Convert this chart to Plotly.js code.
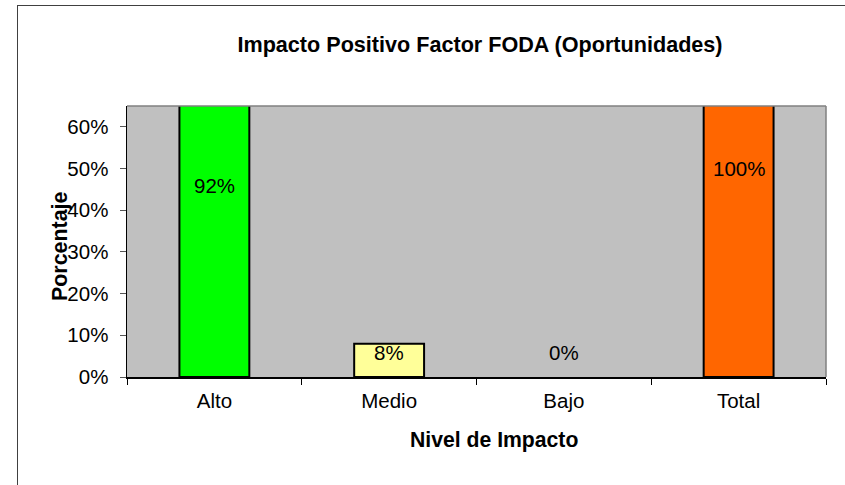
<!DOCTYPE html>
<html>
<head>
<meta charset="utf-8">
<script src="https://cdn.plot.ly/plotly-3.0.1.min.js"></script>
<style>
  html, body { margin: 0; padding: 0; background: #ffffff; overflow: hidden; }
  #wrap { position: relative; width: 845px; height: 485px; overflow: hidden; }
  #frame { position: absolute; left: 17px; top: 5px; width: 828px; height: 480px; border-left: 1px solid #404040; border-top: 1px solid #404040; box-sizing: border-box; }
  #chart { position: absolute; left: 0; top: 0; width: 845px; height: 485px; }
</style>
</head>
<body>
<div id="wrap">
  <div id="frame"></div>
  <div id="chart"></div>
</div>
<script>
// ---- data ----
const categories = ['Alto', 'Medio', 'Bajo', 'Total'];
const values = [0.92, 0.08, 0.00, 1.00];
const valueLabels = ['92%', '8%', '0%', '100%'];
const yTickValues = [0, 0.1, 0.2, 0.3, 0.4, 0.5, 0.6];
const yTickLabels = ['0%', '10%', '20%', '30%', '40%', '50%', '60%'];
const chartTitle = 'Impacto Positivo Factor FODA (Oportunidades)';
const xTitle = 'Nivel de Impacto';
const yTitle = 'Porcentaje';

// ---- styles ----
const barColors = ['#00FF00', '#FFFF99', '#C0C0C0', '#FF6600'];
const barLineWidths = [2, 2, 0, 2];
const FONT = 'Liberation Sans, Arial, sans-serif';
const minLabelY = 0.058;

const trace = {
  type: 'bar',
  x: categories,
  y: values,
  width: 0.4,
  marker: { color: barColors, line: { color: '#000000', width: barLineWidths } },
  hoverinfo: 'none'
};

const labelAnnotations = categories.map((c, i) => ({
  x: c, y: Math.max(values[i] / 2, minLabelY), xref: 'x', yref: 'y',
  text: valueLabels[i], showarrow: false,
  xanchor: 'center', yanchor: 'middle',
  font: { family: FONT, size: 20.5, color: '#000000' }
}));

const layout = {
  width: 845, height: 485,
  margin: { l: 127, r: 19, t: 106, b: 108, pad: 0 },
  paper_bgcolor: 'rgba(0,0,0,0)',
  plot_bgcolor: '#C0C0C0',
  showlegend: false,
  bargap: 0.6,
  title: {
    text: '<b>' + chartTitle + '</b>',
    x: 480 / 845, xref: 'container', xanchor: 'center',
    y: 1 - 44 / 485, yref: 'container', yanchor: 'middle',
    font: { family: FONT, size: 21.6, color: '#000000' }
  },
  xaxis: {
    type: 'category',
    categoryorder: 'array', categoryarray: categories,
    showline: true, linecolor: '#000000', linewidth: 1.5,
    ticks: 'outside', tickson: 'boundaries', ticklen: 6, tickcolor: '#000000', tickwidth: 1,
    ticklabelstandoff: 5,
    tickfont: { family: FONT, size: 20.5, color: '#000000' },
    showgrid: false, zeroline: false, fixedrange: true
  },
  yaxis: {
    range: [0, 0.65],
    tickvals: yTickValues, ticktext: yTickLabels,
    showline: true, linecolor: '#000000', linewidth: 1.5,
    ticks: 'outside', ticklen: 6, tickcolor: '#555555', tickwidth: 1,
    ticklabelstandoff: 7,
    tickfont: { family: FONT, size: 20.5, color: '#000000' },
    showgrid: false, zeroline: false, fixedrange: true
  },
  shapes: [
    { type: 'line', xref: 'paper', yref: 'paper', x0: 0, x1: 1, y0: 1, y1: 1, line: { color: '#808080', width: 1.5 }, layer: 'above' },
    { type: 'line', xref: 'paper', yref: 'paper', x0: 1, x1: 1, y0: 0, y1: 1, line: { color: '#808080', width: 1.5 }, layer: 'above' }
  ],
  annotations: labelAnnotations.concat([
    {
      text: '<b>' + yTitle + '</b>', textangle: -90, showarrow: false,
      xref: 'paper', yref: 'paper', x: (60 - 127) / 699, y: (377 - 247) / 271,
      xanchor: 'center', yanchor: 'middle',
      font: { family: FONT, size: 21.4, color: '#000000' }
    },
    {
      text: '<b>' + xTitle + '</b>', showarrow: false,
      xref: 'paper', yref: 'paper', x: (494 - 127) / 699, y: (377 - 440) / 271,
      xanchor: 'center', yanchor: 'middle',
      font: { family: FONT, size: 21.2, color: '#000000' }
    }
  ])
};

Plotly.newPlot('chart', [trace], layout, { displayModeBar: false, staticPlot: true });
</script>
</body>
</html>
